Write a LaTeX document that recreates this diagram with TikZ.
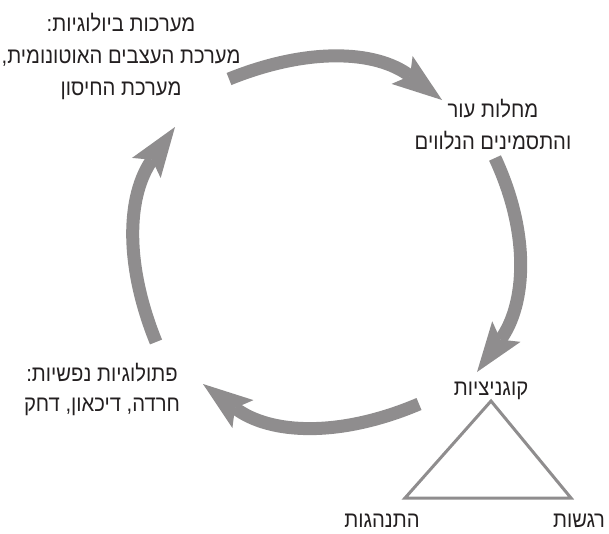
\documentclass[tikz,border=0pt]{standalone}
\usepackage{fontspec}
\newfontfamily\hebfont[Script=Hebrew,FakeStretch=0.9]{Liberation Sans}
\TeXXeTstate=1
\usetikzlibrary{arrows.meta}
\newcommand{\heb}[1]{\beginR #1\endR}
\definecolor{arrowgray}{RGB}{143,141,142}
\definecolor{textgray}{RGB}{35,31,32}

\begin{document}
\begin{tikzpicture}[x=1pt,y=1pt,
    lbl/.style={font=\hebfont\fontsize{22.5}{32}\selectfont,text=textgray,align=center,inner sep=0pt},
    cycle/.style={line width=13pt,draw=arrowgray,-{Stealth[length=50pt,width=35pt,inset=10pt,line width=0pt,fill=arrowgray]}},
    tri/.style={line width=3pt,draw=arrowgray}]
      \useasboundingbox (0,0) rectangle (609,-533);
      \node[lbl] (bio) at (121,-56) {\heb{מערכות ביולוגיות:}\\\heb{מערכת העצבים האוטונומית,}\\\heb{מערכת החיסון}};
      \node[lbl] (skin) at (493,-125) {\heb{מחלות עור}\\\heb{והתסמינים הנלווים}};
      \node[lbl] (cog) at (491,-391) {\heb{קוגניציות}};
      \node[lbl] (psych) at (102,-389) {\heb{פתולוגיות נפשיות:}\\[-2pt]\heb{חרדה, דיכאון, דחק}};
      \node[lbl] (beh) at (382,-521) {\heb{התנהגות}};
      \node[lbl] (emo) at (579,-521) {\heb{רגשות}};
      \coordinate (bioout) at (229,-79);
      \coordinate (skinin) at (442,-100);
      \coordinate (skinout) at (495,-158);
      \coordinate (cogin) at (477,-372);
      \coordinate (cogout) at (419,-404);
      \coordinate (psychin) at (203,-384);
      \coordinate (psychout) at (156,-342);
      \coordinate (bioin) at (175,-127);
      \draw[cycle] (bioout) to[out=22,in=143] (skinin);
      \draw[cycle] (skinout) to[out=-65,in=54] (cogin);
      \draw[cycle] (cogout) to[out=203,in=-37] (psychin);
      \draw[cycle] (psychout) to[out=112,in=-125] (bioin);
      \coordinate (top) at (491,-401);
      \coordinate (left) at (405,-498);
      \coordinate (right) at (571,-498);
      \draw[tri] (top) -- (left) -- (right) -- cycle;
    \end{tikzpicture}
\end{document}
